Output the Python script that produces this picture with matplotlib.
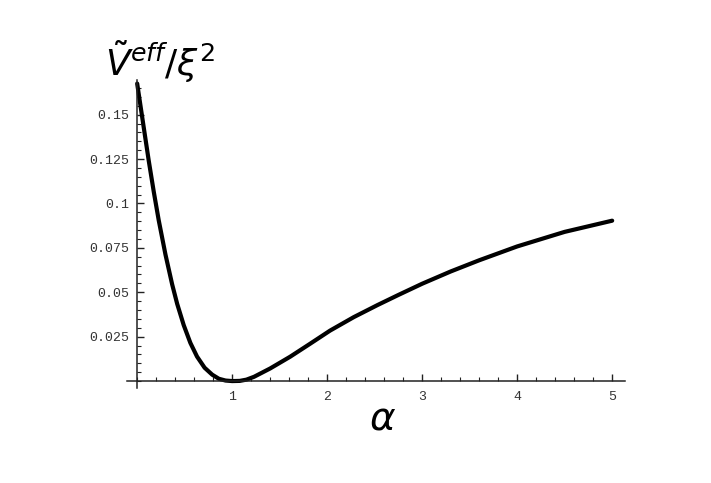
import matplotlib
matplotlib.use("Agg")
import matplotlib.pyplot as plt
from matplotlib.ticker import MultipleLocator, FixedLocator

# Data
alpha = [0.0, 0.07, 0.122, 0.175, 0.227, 0.298, 0.368, 0.421, 0.49, 0.56, 0.63, 0.71,
         0.79, 0.86, 0.93, 1.0, 1.08, 1.15, 1.23, 1.40, 1.61, 1.82, 2.03, 2.28, 2.53,
         2.75, 3.0, 3.3, 3.6, 4.0, 4.5, 5.0]
veff = [0.1675, 0.1425, 0.124, 0.1065, 0.0905, 0.0712, 0.0545, 0.0435, 0.0315, 0.0215, 0.0138, 0.0075,
        0.0036, 0.0013, 0.0003, 0.0, 0.0001, 0.0008, 0.0024, 0.0071, 0.0137, 0.0210, 0.0284, 0.0360, 0.0428,
        0.0485, 0.0548, 0.0617, 0.0680, 0.0758, 0.0840, 0.0903]
xticks = [1, 2, 3, 4, 5]
xticklabels = ["1", "2", "3", "4", "5"]
yticks = [0.025, 0.05, 0.075, 0.1, 0.125, 0.15]
yticklabels = ["0.025", "0.05", "0.075", "0.1", "0.125", "0.15"]

fig = plt.figure(figsize=(7.11, 4.83), dpi=100)
ax = fig.add_axes([127/711, 1-388/483, (625-127)/711, (388-80)/483])
ax.plot(alpha, veff, color="black", lw=3.0, solid_joinstyle="round", solid_capstyle="round")
ax.set_xlim(-0.107, 5.135)
ax.set_ylim(-0.0039, 0.1695)

for s in ["top", "right"]:
    ax.spines[s].set_visible(False)
ax.spines["left"].set_position(("data", 0))
ax.spines["bottom"].set_position(("data", 0))
for s in ["left", "bottom"]:
    ax.spines[s].set_linewidth(1.1)
    ax.spines[s].set_color("#222222")

ax.xaxis.set_major_locator(FixedLocator(xticks))
ax.set_xticklabels(xticklabels)
ax.xaxis.set_minor_locator(MultipleLocator(0.2))
ax.yaxis.set_major_locator(FixedLocator(yticks))
ax.set_yticklabels(yticklabels)
ax.yaxis.set_minor_locator(MultipleLocator(0.005))

mono = "Liberation Mono"
ax.tick_params(axis="both", which="major", direction="in", length=5, width=1.0,
               color="#222222", labelsize=9.5, labelcolor="#333333")
ax.tick_params(axis="both", which="minor", direction="in", length=3, width=0.8, color="#222222")
ax.tick_params(axis="x", pad=7)
ax.tick_params(axis="y", pad=6)
for lab in ax.get_xticklabels() + ax.get_yticklabels():
    lab.set_fontfamily(mono)

plt.rcParams["mathtext.fontset"] = "dejavusans"
fig.text(105/711, 1-62/483, r"$\tilde{V}^{eff}/\xi^{2}$", fontsize=26,
         ha="left", va="center", color="black")
fig.text(383/711, 1-418/483, r"$\alpha$", fontsize=28, ha="center", va="center")

fig.savefig("out.png", dpi=100, facecolor="white")
